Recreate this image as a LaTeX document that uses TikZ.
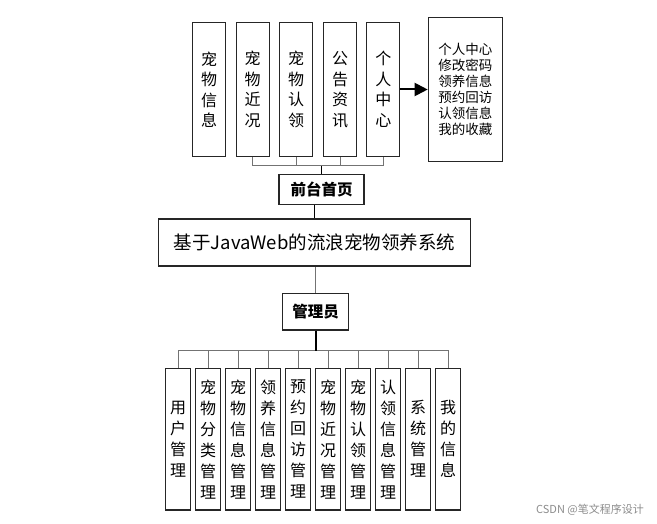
\documentclass[tikz,border=0pt]{standalone}
\usepackage{fontspec}
\newfontfamily\cjk{Noto Sans CJK SC}
\usetikzlibrary{arrows.meta}
\tikzset{
  box/.style={draw=black!85, line width=1.2pt, inner sep=0pt, fill=white},
  vbox/.style={box, minimum width=33pt, minimum height=134.4pt, align=center,
     font=\cjk\fontsize{16}{20.5}\selectfont},
  bbox/.style={box, minimum width=25.7pt, minimum height=141.7pt, align=center,
     font=\cjk\fontsize{16}{21}\selectfont},
  conn/.style={draw=black!55, line width=1pt},
  dark/.style={draw=black, line width=1pt},
  thick2/.style={draw=black, line width=2pt},
}
\begin{document}
\begin{tikzpicture}[x=1pt,y=-1pt]
\useasboundingbox (0,0) rectangle (657,524);
% top boxes
\node[vbox] (t1) at (209.2,89.5) {宠\\物\\信\\息};
\node[vbox] (t2) at (252.7,89.5) {宠\\物\\近\\况};
\node[vbox] (t3) at (296.0,89.5) {宠\\物\\认\\领};
\node[vbox] (t4) at (340.0,89.5) {公\\告\\资\\讯};
\node[vbox] (t5) at (383.3,89.5) {个\\人\\中\\心};
\node[box, minimum width=74pt, minimum height=144.4pt, align=center,
  font=\cjk\fontsize{13.5}{16}\selectfont] (pc) at (465.3,89.5)
  {个人中心\\修改密码\\领养信息\\预约回访\\认领信息\\我的收藏};
\draw[thick2, -{Triangle[length=13pt,width=13pt]}] (t5.east) -- (pc.west);
% front page
\node[box, minimum width=85pt, minimum height=30pt, font=\cjk\bfseries\fontsize{15.5}{18}\selectfont] (fp) at (321.5,189.3) {前台首页};
\coordinate (tb) at (0,166);
\draw[conn] (t2.south) -- (t2.south |- tb) -- (t5.south |- tb) -- (t5.south);
\draw[conn] (t3.south) -- (t3.south |- tb);
\draw[conn] (t4.south) -- (t4.south |- tb);
\draw[dark] (fp.north) -- (fp.north |- tb);
% main
\node[box, minimum width=312.4pt, minimum height=47pt, font=\cjk\fontsize{18.5}{22}\selectfont] (main) at (314.5,242.5) {基于JavaWeb的流浪宠物领养系统};
\draw[dark] (main.north) -- (main.north |- fp.south);
% admin
\node[box, minimum width=65.6pt, minimum height=36.7pt, font=\cjk\bfseries\fontsize{15.5}{18}\selectfont] (adm) at (315.5,311.7) {管理员};
\draw[conn] (adm.north) -- (adm.north |- main.south);
% bottom boxes
\node[bbox] (b1) at (178,439.2) {用\\户\\管\\理};
\node[bbox] (b2) at (208,439.2) {宠\\物\\分\\类\\管\\理};
\node[bbox] (b3) at (238,439.2) {宠\\物\\信\\息\\管\\理};
\node[bbox] (b4) at (268,439.2) {领\\养\\信\\息\\管\\理};
\node[bbox] (b5) at (298,439.2) {预\\约\\回\\访\\管\\理};
\node[bbox] (b6) at (328,439.2) {宠\\物\\近\\况\\管\\理};
\node[bbox] (b7) at (358,439.2) {宠\\物\\认\\领\\管\\理};
\node[bbox] (b8) at (388,439.2) {认\\领\\信\\息\\管\\理};
\node[bbox] (b9) at (418,439.2) {系\\统\\管\\理};
\node[bbox] (b10) at (448,439.2) {我\\的\\信\\息};
\coordinate (bb) at (0,350.7);
\draw[conn] (b1.north) -- (b1.north |- bb) -- (b10.north |- bb) -- (b10.north);
\foreach \i in {2,...,9} { \draw[conn] (b\i.north) -- (b\i.north |- bb); }
\draw[thick2] (adm.south) -- (adm.south |- bb);
% watermark
\node[font=\cjk\fontsize{11}{13}\selectfont, text=black!45, inner sep=0pt] (wm) at (590,510) {CSDN @笔文程序设计};
\end{tikzpicture}
\end{document}
